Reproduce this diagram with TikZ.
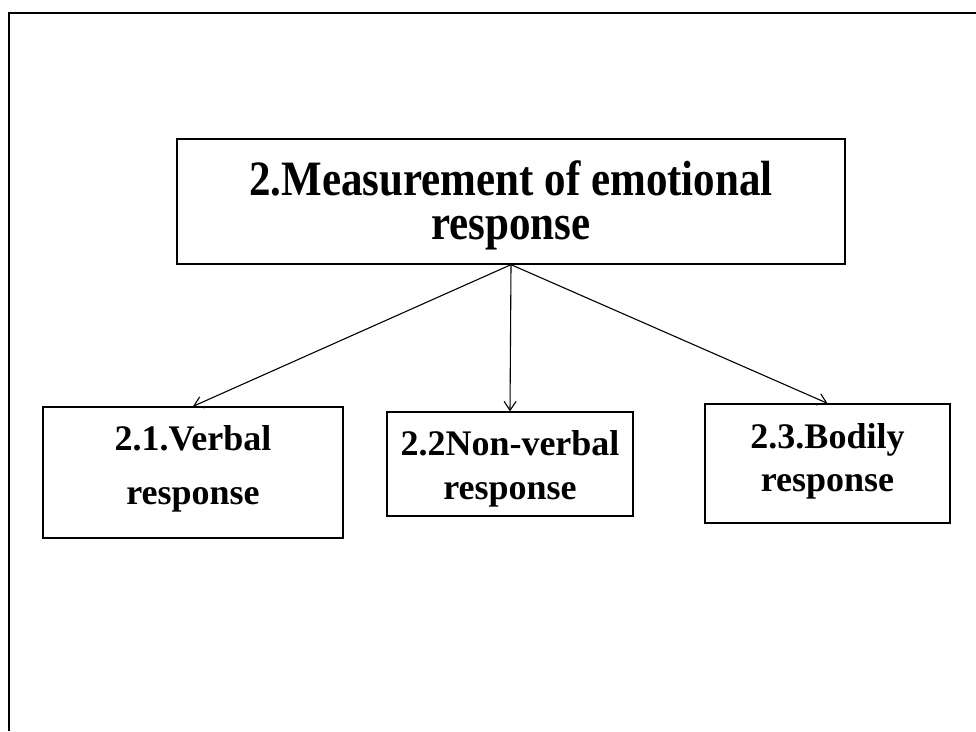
\documentclass[tikz,border=0pt]{standalone}
\usepackage{fontspec}
\setmainfont{Liberation Serif}
\usetikzlibrary{arrows.meta}
\newcommand{\tallbold}[1]{\scalebox{1}[1.15]{#1}}
\begin{document}
\begin{tikzpicture}[x=1pt,y=-1pt,
  box/.style={draw=black,line width=1.3pt,rectangle,inner sep=0pt},
  lbl/.style={anchor=base,inner sep=0pt,font=\bfseries\fontsize{36}{40}\selectfont},
  biglbl/.style={inner sep=0pt,align=center,font=\bfseries\fontsize{43}{44}\selectfont},
  link/.style={line width=1.1pt,-{Straight Barb[length=9pt,width=12pt,line width=1.1pt]}},
  frame/.style={line width=2.5pt}]
\useasboundingbox (0,0) rectangle (976,731);
% page frame: top and left edges
\coordinate (ftl) at (9,13);
\coordinate (ftr) at (976,13);
\coordinate (fbl) at (9,731);
\draw[frame] (fbl) -- (ftl) -- (ftr);

% parent box
\node[box,minimum width=668pt,minimum height=125pt] (top) at (511,201.5) {};
\node[biglbl] (t) at (511,205.5) {\tallbold{2.Measurement of emotional}\\\tallbold{response}};

% child boxes
\node[box,minimum width=300pt,minimum height=131pt] (verbal) at (193,472.5) {};
\node[lbl] (v1) at (193,450) {2.1.Verbal};
\node[lbl] (v2) at (193,504) {response};

\node[box,minimum width=246pt,minimum height=104pt] (nonverbal) at (510,464) {};
\node[lbl] (n1) at (510,455) {2.2Non-verbal};
\node[lbl] (n2) at (510,499) {response};

\node[box,minimum width=245pt,minimum height=119pt] (bodily) at (827.5,463.5) {};
\node[lbl] (b1) at (827.5,448) {2.3.Bodily};
\node[lbl] (b2) at (827.5,491) {response};

% connectors
\draw[link] (top.south) -- (verbal.north);
\draw[link] (top.south) -- (nonverbal.north);
\draw[link] (top.south) -- (bodily.north);
\end{tikzpicture}
\end{document}
